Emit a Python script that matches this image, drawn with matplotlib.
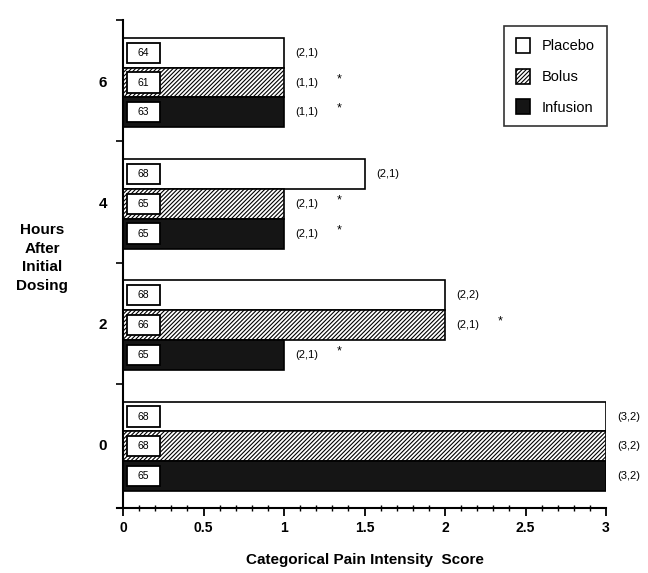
import numpy as np
import matplotlib.pyplot as plt
from matplotlib.patches import Rectangle

# data
hours = ['0', '2', '4', '6']
placebo = [3, 2, 1.5, 1]
bolus = [3, 2, 1, 1]
infusion = [3, 1, 1, 1]
n_placebo = ['68', '68', '68', '64']
n_bolus = ['68', '66', '65', '61']
n_infusion = ['65', '65', '65', '63']
med_placebo = ['(3,2)', '(2,2)', '(2,1)', '(2,1)']
med_bolus = ['(3,2)', '(2,1)', '(2,1)', '(1,1)']
med_infusion = ['(3,2)', '(2,1)', '(2,1)', '(1,1)']
star_bolus = [False, True, True, True]
star_infusion = [False, True, True, True]

plt.rcParams['font.family'] = ['Liberation Sans', 'DejaVu Sans']
plt.rcParams['hatch.linewidth'] = 0.8

fig = plt.figure(figsize=(6.48, 5.73), dpi=100)
ax = fig.add_axes([123/648, 1-508/573, (606-123)/648, (508-20)/573])

centers = 2.07 + 4.07*np.arange(len(hours))
h = 1.0

series = [
    (placebo, n_placebo, med_placebo, [False]*4, +1, dict(color='white', hatch=None), 'Placebo'),
    (bolus, n_bolus, med_bolus, star_bolus, 0, dict(color='white', hatch='////////'), 'Bolus'),
    (infusion, n_infusion, med_infusion, star_infusion, -1, dict(color='#151515', hatch=None), 'Infusion'),
]

for vals, ns, meds, stars, off, st, name in series:
    ys = centers + off*h
    ax.barh(ys, vals, height=h, color=st['color'], hatch=st['hatch'],
            edgecolor='black', linewidth=1.2, label=name)
    for y, v, n, m, s in zip(ys, vals, ns, meds, stars):
        # little n-box at the start of each bar
        ax.add_patch(Rectangle((0.025, y - 0.34), 0.205, 0.68, fc='white', ec='black', lw=1.3, zorder=3))
        ax.text(0.128, y, n, ha='center', va='center', fontsize=7.5, zorder=4)
        ax.text(v + 0.07, y, m, ha='left', va='center', fontsize=8)
        if s:
            ax.text(v + 0.33, y + 0.12, '*', ha='left', va='center', fontsize=9)

ax.set_xlim(0, 3)
ax.set_ylim(0, 16.27)
ax.spines['top'].set_visible(False)
ax.spines['right'].set_visible(False)
ax.spines['left'].set_linewidth(1.5)
ax.spines['bottom'].set_linewidth(1.5)
ax.spines['bottom'].set_bounds(-0.04, 3)

ax.set_xticks(np.arange(0, 3.01, 0.5))
ax.set_xticklabels(['0', '0.5', '1', '1.5', '2', '2.5', '3'], fontsize=10, fontweight='bold')
ax.set_xticks(np.arange(0, 3.01, 0.1), minor=True)
ax.tick_params(axis='x', which='major', direction='out', length=6, width=1.3)
ax.tick_params(axis='x', which='minor', direction='inout', length=4, width=1)

ax.set_yticks(np.append(0, centers + 2.1))
ax.set_yticklabels([])
ax.tick_params(axis='y', which='major', direction='out', length=5, width=1.2)
for c, lab in zip(centers, hours):
    ax.text(-0.1, c, lab, ha='right', va='center', fontsize=11, fontweight='bold')

fig.text(365/648, 1-560/573, 'Categorical Pain Intensity  Score', ha='center', va='center',
         fontsize=11, fontweight='bold')
fig.text(42/648, 1-258/573, 'Hours\nAfter\nInitial\nDosing', ha='center', va='center',
         fontsize=11, fontweight='bold', linespacing=1.45)

handles, labels = ax.get_legend_handles_labels()
leg = fig.legend(handles, labels, loc='upper right', bbox_to_anchor=(614/648, 1-19/573),
                 fontsize=10.5, frameon=True, fancybox=False, edgecolor='black',
                 handlelength=1.0, handleheight=1.2, labelspacing=1.05, borderpad=0.8,
                 handletextpad=0.8)
leg.get_frame().set_linewidth(1.2)

fig.savefig('out.png', dpi=100)
